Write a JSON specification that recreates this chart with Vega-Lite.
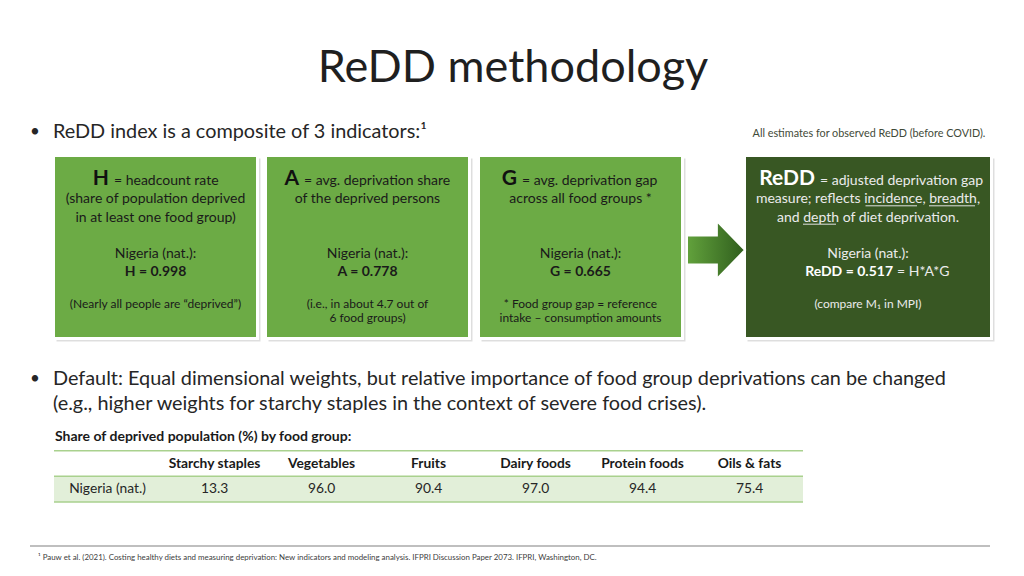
{
  "$schema": "https://vega.github.io/schema/vega-lite/v6.json",
  "width": 1024,
  "height": 576,
  "autosize": "none",
  "padding": 0,
  "background": "white",
  "config": {"view": {"stroke": null}, "font": "Lato", "axis": {"disable": true}, "legend": {"disable": true}},
  "datasets": {
    "slide": [
      {"part": "title", "text": "ReDD methodology"},
      {"part": "note", "text": "All estimates for observed ReDD (before COVID)."},
      {"part": "caption", "text": "Share of deprived population (%) by food group:"},
      {"part": "footnote", "text": "¹ Pauw et al. (2021). Costing healthy diets and measuring deprivation: New indicators and modeling analysis. IFPRI Discussion Paper 2073. IFPRI, Washington, DC."}
    ],
    "bullets": [
      {"point": 1, "line": 1, "text": "ReDD index is a composite of 3 indicators:¹"},
      {"point": 2, "line": 2, "text": "Default: Equal dimensional weights, but relative importance of food group deprivations can be changed"},
      {"point": 2, "line": 3, "text": "(e.g., higher weights for starchy staples in the context of severe food crises)."}
    ],
    "boxes": [
      {"id": 1, "symbol": "H", "header": "= headcount rate"},
      {"id": 2, "symbol": "A", "header": "= avg. deprivation share"},
      {"id": 3, "symbol": "G", "header": "= avg. deprivation gap"},
      {"id": 4, "symbol": "ReDD", "header": "= adjusted deprivation gap"}
    ],
    "boxLines": [
      {"id": 1, "line": 2, "role": "body", "text": "(share of population deprived"},
      {"id": 1, "line": 3, "role": "body", "text": "in at least one food group)"},
      {"id": 1, "line": 4, "role": "body", "text": "Nigeria (nat.):"},
      {"id": 1, "line": 5, "role": "value", "text": "H = 0.998"},
      {"id": 1, "line": 6, "role": "note", "text": "(Nearly all people are “deprived”)"},
      {"id": 2, "line": 2, "role": "body", "text": "of the deprived persons"},
      {"id": 2, "line": 4, "role": "body", "text": "Nigeria (nat.):"},
      {"id": 2, "line": 5, "role": "value", "text": "A = 0.778"},
      {"id": 2, "line": 6, "role": "note", "text": "(i.e., in about 4.7 out of"},
      {"id": 2, "line": 7, "role": "note", "text": "6 food groups)"},
      {"id": 3, "line": 2, "role": "body", "text": "across all food groups *"},
      {"id": 3, "line": 4, "role": "body", "text": "Nigeria (nat.):"},
      {"id": 3, "line": 5, "role": "value", "text": "G = 0.665"},
      {"id": 3, "line": 6, "role": "note", "text": "* Food group gap = reference"},
      {"id": 3, "line": 7, "role": "note", "text": "intake – consumption amounts"},
      {"id": 4, "line": 2, "role": "body", "text": "measure; reflects incidence, breadth,"},
      {"id": 4, "line": 3, "role": "body", "text": "and depth of diet deprivation."},
      {"id": 4, "line": 4, "role": "body", "text": "Nigeria (nat.):"},
      {"id": 4, "line": 6, "role": "note", "text": "(compare M₁ in MPI)"}
    ],
    "formula": [{"id": 4, "line": 5, "result": "ReDD = 0.517", "formula": "= H*A*G"}],
    "underlines": [
      {"line": 2, "word": "incidence", "start": 18, "end": 27},
      {"line": 2, "word": "breadth", "start": 29, "end": 36},
      {"line": 3, "word": "depth", "start": 4, "end": 9}
    ],
    "links": [{"from": "G", "to": "ReDD"}],
    "table": [
      {"country": "Nigeria (nat.)", "group": "Starchy staples", "share": 13.3},
      {"country": "Nigeria (nat.)", "group": "Vegetables", "share": 96.0},
      {"country": "Nigeria (nat.)", "group": "Fruits", "share": 90.4},
      {"country": "Nigeria (nat.)", "group": "Dairy foods", "share": 97.0},
      {"country": "Nigeria (nat.)", "group": "Protein foods", "share": 94.4},
      {"country": "Nigeria (nat.)", "group": "Oils & fats", "share": 75.4}
    ],
    "tableRules": [{"boundary": 1}, {"boundary": 2}, {"boundary": 3}]
  },
  "resolve": {"scale": {"x": "independent", "y": "independent", "color": "independent"}},
  "layer": [
    {
      "data": {"name": "slide"},
      "transform": [{"filter": "datum.part === 'title'"}],
      "mark": {"type": "text", "fontSize": 45, "color": "#1f1f1f", "align": "center", "baseline": "alphabetic"},
      "encoding": {
        "x": {"field": "part", "type": "nominal", "scale": {"domain": ["title"], "range": [513, 513]}},
        "y": {"field": "part", "type": "nominal", "scale": {"domain": ["title"], "range": [82, 82]}},
        "text": {"field": "text"}
      }
    },
    {
      "data": {"name": "bullets"},
      "mark": {"type": "text", "fontSize": 19.85, "color": "#262626", "align": "left", "baseline": "alphabetic"},
      "encoding": {
        "x": {"field": "point", "type": "quantitative", "scale": {"domain": [1, 2], "range": [53, 53]}},
        "y": {"field": "line", "type": "quantitative", "scale": {"domain": [1, 2, 3], "range": [138, 384.5, 409.5]}},
        "text": {"field": "text"}
      }
    },
    {
      "data": {"name": "bullets"},
      "transform": [{"aggregate": [{"op": "min", "field": "line", "as": "line"}], "groupby": ["point"]}],
      "mark": {"type": "text", "text": "•", "fontSize": 17, "color": "#262626", "align": "center", "baseline": "alphabetic"},
      "encoding": {
        "x": {"field": "point", "type": "quantitative", "scale": {"domain": [1, 2], "range": [35, 35]}},
        "y": {"field": "line", "type": "quantitative", "scale": {"domain": [1, 2, 3], "range": [137, 383.5, 409.5]}}
      }
    },
    {
      "data": {"name": "slide"},
      "transform": [{"filter": "datum.part === 'note'"}],
      "mark": {"type": "text", "fontSize": 10.8, "color": "#3f4a38", "align": "center", "baseline": "alphabetic"},
      "encoding": {
        "x": {"field": "part", "type": "nominal", "scale": {"domain": ["note"], "range": [869, 869]}},
        "y": {"field": "part", "type": "nominal", "scale": {"domain": ["note"], "range": [137.3, 137.3]}},
        "text": {"field": "text"}
      }
    },
    {
      "data": {"name": "boxes"},
      "transform": [{"filter": "datum.id <= 3"}],
      "mark": {"type": "rect", "fill": "#000000", "opacity": 0.13, "xOffset": -99, "x2Offset": 105, "yOffset": 3, "y2Offset": 3},
      "encoding": {
        "x": {"field": "id", "type": "quantitative", "scale": {"domain": [1, 2, 3, 4], "range": [155.5, 367.5, 580.5, 868]}},
        "x2": {"field": "id"},
        "y": {"datum": 0, "type": "quantitative", "scale": {"domain": [0, 8], "range": [155.5, 338.5]}},
        "y2": {"datum": 8}
      }
    },
    {
      "data": {"name": "boxes"},
      "transform": [{"filter": "datum.id === 4"}],
      "mark": {"type": "rect", "fill": "#000000", "opacity": 0.13, "xOffset": -120.5, "x2Offset": 126.5, "yOffset": 3, "y2Offset": 3},
      "encoding": {
        "x": {"field": "id", "type": "quantitative", "scale": {"domain": [1, 2, 3, 4], "range": [155.5, 367.5, 580.5, 868]}},
        "x2": {"field": "id"},
        "y": {"datum": 0, "type": "quantitative", "scale": {"domain": [0, 8], "range": [155.5, 338.5]}},
        "y2": {"datum": 8}
      }
    },
    {
      "data": {"name": "boxes"},
      "transform": [{"filter": "datum.id <= 3"}],
      "mark": {"type": "rect", "fill": "#6cab45", "stroke": "#ffffff", "strokeWidth": 3, "xOffset": -102, "x2Offset": 102},
      "encoding": {
        "x": {"field": "id", "type": "quantitative", "scale": {"domain": [1, 2, 3, 4], "range": [155.5, 367.5, 580.5, 868]}},
        "x2": {"field": "id"},
        "y": {"datum": 0, "type": "quantitative", "scale": {"domain": [0, 8], "range": [155.5, 338.5]}},
        "y2": {"datum": 8}
      }
    },
    {
      "data": {"name": "boxes"},
      "transform": [{"filter": "datum.id === 4"}],
      "mark": {"type": "rect", "fill": "#385723", "stroke": "#ffffff", "strokeWidth": 3, "xOffset": -123.5, "x2Offset": 123.5},
      "encoding": {
        "x": {"field": "id", "type": "quantitative", "scale": {"domain": [1, 2, 3, 4], "range": [155.5, 367.5, 580.5, 868]}},
        "x2": {"field": "id"},
        "y": {"datum": 0, "type": "quantitative", "scale": {"domain": [0, 8], "range": [155.5, 338.5]}},
        "y2": {"datum": 8}
      }
    },
    {
      "data": {"name": "links"},
      "mark": {"type": "point", "shape": "M-1,-0.5L0.03,-0.5L0.03,-1L1,0L0.03,1L0.03,0.5L-1,0.5Z", "size": 3364, "filled": true, "opacity": 1, "fill": {"gradient": "linear", "x1": 0, "y1": 0, "x2": 1, "y2": 0, "stops": [{"offset": 0, "color": "#62a23c"}, {"offset": 1, "color": "#2f5d1d"}]}, "stroke": "#ffffff", "strokeWidth": 2, "strokeOpacity": 1},
      "encoding": {
        "x": {"field": "from", "type": "nominal", "scale": {"domain": ["G"], "range": [716, 716]}},
        "y": {"field": "to", "type": "nominal", "scale": {"domain": ["ReDD"], "range": [250, 250]}}
      }
    },
    {
      "data": {"name": "boxes"},
      "mark": {"type": "text", "fontSize": 21, "fontWeight": "bold", "align": "right", "baseline": "alphabetic", "dx": -2},
      "encoding": {
        "x": {"field": "id", "type": "quantitative", "scale": {"domain": [1, 2, 3, 4], "range": [111, 301, 519, 817]}},
        "y": {"datum": 1, "type": "quantitative", "scale": {"domain": [0, 1, 2, 3, 4, 5, 6, 7, 8], "range": [155.5, 184.5, 203.3, 221.7, 258.3, 276, 307.7, 321.7, 338.5]}},
        "color": {"field": "id", "type": "nominal", "scale": {"domain": [1, 2, 3, 4], "range": ["#111111", "#111111", "#111111", "#ffffff"]}},
        "text": {"field": "symbol"}
      }
    },
    {
      "data": {"name": "boxes"},
      "mark": {"type": "text", "fontSize": 14, "align": "left", "baseline": "alphabetic", "dx": 3},
      "encoding": {
        "x": {"field": "id", "type": "quantitative", "scale": {"domain": [1, 2, 3, 4], "range": [111, 301, 519, 817]}},
        "y": {"datum": 1, "type": "quantitative", "scale": {"domain": [0, 1, 2, 3, 4, 5, 6, 7, 8], "range": [155.5, 184.5, 203.3, 221.7, 258.3, 276, 307.7, 321.7, 338.5]}},
        "color": {"field": "id", "type": "nominal", "scale": {"domain": [1, 2, 3, 4], "range": ["#1a1a1a", "#1a1a1a", "#1a1a1a", "#ebebeb"]}},
        "text": {"field": "header"}
      }
    },
    {
      "data": {"name": "boxLines"},
      "transform": [{"filter": "datum.role === 'body'"}],
      "mark": {"type": "text", "fontSize": 14, "align": "center", "baseline": "alphabetic"},
      "encoding": {
        "x": {"field": "id", "type": "quantitative", "scale": {"domain": [1, 2, 3, 4], "range": [155.5, 367.5, 580.5, 868]}},
        "y": {"field": "line", "type": "quantitative", "scale": {"domain": [0, 1, 2, 3, 4, 5, 6, 7, 8], "range": [155.5, 184.5, 203.3, 221.7, 258.3, 276, 307.7, 321.7, 338.5]}},
        "color": {"field": "id", "type": "nominal", "scale": {"domain": [1, 2, 3, 4], "range": ["#1a1a1a", "#1a1a1a", "#1a1a1a", "#ebebeb"]}},
        "text": {"field": "text"}
      }
    },
    {
      "data": {"name": "boxLines"},
      "transform": [{"filter": "datum.role === 'value'"}],
      "mark": {"type": "text", "fontSize": 14, "fontWeight": "bold", "align": "center", "baseline": "alphabetic"},
      "encoding": {
        "x": {"field": "id", "type": "quantitative", "scale": {"domain": [1, 2, 3, 4], "range": [155.5, 367.5, 580.5, 868]}},
        "y": {"field": "line", "type": "quantitative", "scale": {"domain": [0, 1, 2, 3, 4, 5, 6, 7, 8], "range": [155.5, 184.5, 203.3, 221.7, 258.3, 276, 307.7, 321.7, 338.5]}},
        "color": {"field": "id", "type": "nominal", "scale": {"domain": [1, 2, 3, 4], "range": ["#1a1a1a", "#1a1a1a", "#1a1a1a", "#ebebeb"]}},
        "text": {"field": "text"}
      }
    },
    {
      "data": {"name": "boxLines"},
      "transform": [{"filter": "datum.role === 'note'"}],
      "mark": {"type": "text", "fontSize": 12, "align": "center", "baseline": "alphabetic"},
      "encoding": {
        "x": {"field": "id", "type": "quantitative", "scale": {"domain": [1, 2, 3, 4], "range": [155.5, 367.5, 580.5, 868]}},
        "y": {"field": "line", "type": "quantitative", "scale": {"domain": [0, 1, 2, 3, 4, 5, 6, 7, 8], "range": [155.5, 184.5, 203.3, 221.7, 258.3, 276, 307.7, 321.7, 338.5]}},
        "color": {"field": "id", "type": "nominal", "scale": {"domain": [1, 2, 3, 4], "range": ["#1a1a1a", "#1a1a1a", "#1a1a1a", "#ebebeb"]}},
        "text": {"field": "text"}
      }
    },
    {
      "data": {"name": "formula"},
      "mark": {"type": "text", "fontSize": 14, "fontWeight": "bold", "align": "right", "baseline": "alphabetic", "color": "#ffffff", "dx": 25},
      "encoding": {
        "x": {"field": "id", "type": "quantitative", "scale": {"domain": [1, 2, 3, 4], "range": [155.5, 367.5, 580.5, 868]}},
        "y": {"field": "line", "type": "quantitative", "scale": {"domain": [0, 1, 2, 3, 4, 5, 6, 7, 8], "range": [155.5, 184.5, 203.3, 221.7, 258.3, 276, 307.7, 321.7, 338.5]}},
        "text": {"field": "result"}
      }
    },
    {
      "data": {"name": "formula"},
      "mark": {"type": "text", "fontSize": 14, "align": "left", "baseline": "alphabetic", "color": "#ebebeb", "dx": 29},
      "encoding": {
        "x": {"field": "id", "type": "quantitative", "scale": {"domain": [1, 2, 3, 4], "range": [155.5, 367.5, 580.5, 868]}},
        "y": {"field": "line", "type": "quantitative", "scale": {"domain": [0, 1, 2, 3, 4, 5, 6, 7, 8], "range": [155.5, 184.5, 203.3, 221.7, 258.3, 276, 307.7, 321.7, 338.5]}},
        "text": {"field": "formula"}
      }
    },
    {
      "data": {"name": "underlines"},
      "mark": {"type": "rule", "color": "#e0e0e0", "strokeWidth": 1, "yOffset": 2.5},
      "encoding": {
        "x": {"field": "start", "type": "quantitative", "scale": {"domain": [4, 9, 18, 27, 29, 36], "range": [803, 836, 865.5, 917, 929, 975]}},
        "x2": {"field": "end"},
        "y": {"field": "line", "type": "quantitative", "scale": {"domain": [0, 1, 2, 3, 4, 5, 6, 7, 8], "range": [155.5, 184.5, 203.3, 221.7, 258.3, 276, 307.7, 321.7, 338.5]}}
      }
    },
    {
      "data": {"name": "slide"},
      "transform": [{"filter": "datum.part === 'caption'"}],
      "mark": {"type": "text", "fontSize": 14, "fontWeight": "bold", "color": "#1a1a1a", "align": "left", "baseline": "alphabetic"},
      "encoding": {
        "x": {"field": "part", "type": "nominal", "scale": {"domain": ["caption"], "range": [55, 55]}},
        "y": {"field": "part", "type": "nominal", "scale": {"domain": ["caption"], "range": [441, 441]}},
        "text": {"field": "text"}
      }
    },
    {
      "data": {"name": "table"},
      "transform": [{"aggregate": [{"op": "count", "as": "n"}], "groupby": ["country"]}],
      "mark": {"type": "rect", "fill": "#e2efd9"},
      "encoding": {
        "x": {"datum": 0, "type": "quantitative", "scale": {"domain": [0, 7], "range": [54, 803]}},
        "x2": {"datum": 7},
        "y": {"datum": 2, "type": "quantitative", "scale": {"domain": [0, 3], "range": [425, 502]}},
        "y2": {"datum": 3}
      }
    },
    {
      "data": {"name": "tableRules"},
      "mark": {"type": "rule", "color": "#a9d18e", "strokeWidth": 1.5},
      "encoding": {
        "x": {"datum": 0, "type": "quantitative", "scale": {"domain": [0, 7], "range": [54, 803]}},
        "x2": {"datum": 7},
        "y": {"field": "boundary", "type": "quantitative", "scale": {"domain": [0, 3], "range": [425, 502]}}
      }
    },
    {
      "data": {"name": "table"},
      "mark": {"type": "text", "fontSize": 13.8, "fontWeight": "bold", "color": "#1a1a1a", "align": "center", "baseline": "middle"},
      "encoding": {
        "x": {"field": "group", "type": "nominal", "bandPosition": 0.5, "sort": null, "scale": {"type": "band", "domain": ["Starchy staples", "Vegetables", "Fruits", "Dairy foods", "Protein foods", "Oils & fats"], "range": [161, 803], "paddingInner": 0, "paddingOuter": 0}},
        "y": {"datum": "header", "type": "nominal", "bandPosition": 0.5, "scale": {"type": "band", "domain": ["caption", "header", "data"], "range": [425, 502], "paddingInner": 0, "paddingOuter": 0}},
        "text": {"field": "group"}
      }
    },
    {
      "data": {"name": "table"},
      "mark": {"type": "text", "fontSize": 13.8, "color": "#262626", "align": "center", "baseline": "middle"},
      "encoding": {
        "x": {"field": "group", "type": "nominal", "bandPosition": 0.5, "sort": null, "scale": {"type": "band", "domain": ["Starchy staples", "Vegetables", "Fruits", "Dairy foods", "Protein foods", "Oils & fats"], "range": [161, 803], "paddingInner": 0, "paddingOuter": 0}},
        "y": {"datum": "data", "type": "nominal", "bandPosition": 0.5, "scale": {"type": "band", "domain": ["caption", "header", "data"], "range": [425, 502], "paddingInner": 0, "paddingOuter": 0}},
        "text": {"field": "share", "type": "quantitative", "format": ".1f"}
      }
    },
    {
      "data": {"name": "table"},
      "transform": [{"aggregate": [{"op": "count", "as": "n"}], "groupby": ["country"]}],
      "mark": {"type": "text", "fontSize": 13.8, "color": "#262626", "align": "center", "baseline": "middle"},
      "encoding": {
        "x": {"field": "country", "type": "nominal", "bandPosition": 0.5, "scale": {"type": "band", "domain": ["Nigeria (nat.)"], "range": [54, 161], "paddingInner": 0, "paddingOuter": 0}},
        "y": {"datum": "data", "type": "nominal", "bandPosition": 0.5, "scale": {"type": "band", "domain": ["caption", "header", "data"], "range": [425, 502], "paddingInner": 0, "paddingOuter": 0}},
        "text": {"field": "country"}
      }
    },
    {
      "data": {"name": "slide"},
      "transform": [{"filter": "datum.part === 'footnote'"}],
      "mark": {"type": "rule", "color": "#808080", "strokeWidth": 1.2},
      "encoding": {
        "x": {"datum": 0, "type": "quantitative", "scale": {"domain": [0, 1], "range": [30, 990]}},
        "x2": {"datum": 1},
        "y": {"field": "part", "type": "nominal", "scale": {"domain": ["footnote"], "range": [546, 546]}}
      }
    },
    {
      "data": {"name": "slide"},
      "transform": [{"filter": "datum.part === 'footnote'"}],
      "mark": {"type": "text", "fontSize": 7.9, "color": "#404040", "align": "left", "baseline": "alphabetic"},
      "encoding": {
        "x": {"field": "part", "type": "nominal", "scale": {"domain": ["footnote"], "range": [38, 38]}},
        "y": {"field": "part", "type": "nominal", "scale": {"domain": ["footnote"], "range": [560, 560]}},
        "text": {"field": "text"}
      }
    }
  ]
}
